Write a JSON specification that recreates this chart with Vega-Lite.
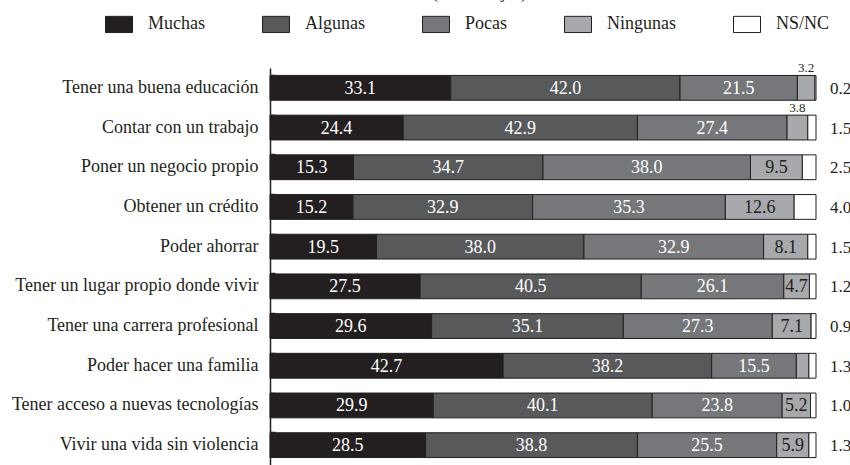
{
  "$schema": "https://vega.github.io/schema/vega-lite/v6.json",
  "autosize": {"type": "none"},
  "width": 546,
  "height": 397,
  "padding": {"left": 270, "top": 68, "right": 34, "bottom": 0},
  "background": "white",
  "config": {
    "view": {"stroke": null},
    "font": "Liberation Serif, Times New Roman, DejaVu Serif, serif",
    "text": {"font": "Liberation Serif, Times New Roman, DejaVu Serif, serif"}
  },
  "title": {
    "text": "(Porcentajes)",
    "font": "Liberation Serif, Times New Roman, DejaVu Serif, serif",
    "fontSize": 18,
    "fontWeight": "normal",
    "color": "#231f20",
    "anchor": "start",
    "frame": "group",
    "baseline": "alphabetic",
    "offset": -6,
    "dx": 162
  },
  "data": {
    "values": [
      {"c": "Tener una buena educación", "Muchas": 33.1, "Algunas": 42.0, "Pocas": 21.5, "Ningunas": 3.2, "NS/NC": 0.2},
      {"c": "Contar con un trabajo", "Muchas": 24.4, "Algunas": 42.9, "Pocas": 27.4, "Ningunas": 3.8, "NS/NC": 1.5},
      {"c": "Poner un negocio propio", "Muchas": 15.3, "Algunas": 34.7, "Pocas": 38.0, "Ningunas": 9.5, "NS/NC": 2.5},
      {"c": "Obtener un crédito", "Muchas": 15.2, "Algunas": 32.9, "Pocas": 35.3, "Ningunas": 12.6, "NS/NC": 4.0},
      {"c": "Poder ahorrar", "Muchas": 19.5, "Algunas": 38.0, "Pocas": 32.9, "Ningunas": 8.1, "NS/NC": 1.5},
      {"c": "Tener un lugar propio donde vivir", "Muchas": 27.5, "Algunas": 40.5, "Pocas": 26.1, "Ningunas": 4.7, "NS/NC": 1.2},
      {"c": "Tener una carrera profesional", "Muchas": 29.6, "Algunas": 35.1, "Pocas": 27.3, "Ningunas": 7.1, "NS/NC": 0.9},
      {"c": "Poder hacer una familia", "Muchas": 42.7, "Algunas": 38.2, "Pocas": 15.5, "Ningunas": 2.3, "NS/NC": 1.3},
      {"c": "Tener acceso a nuevas tecnologías", "Muchas": 29.9, "Algunas": 40.1, "Pocas": 23.8, "Ningunas": 5.2, "NS/NC": 1.0},
      {"c": "Vivir una vida sin violencia", "Muchas": 28.5, "Algunas": 38.8, "Pocas": 25.5, "Ningunas": 5.9, "NS/NC": 1.3}
    ]
  },
  "transform": [
    {"fold": ["Muchas", "Algunas", "Pocas", "Ningunas", "NS/NC"], "as": ["r", "v"]},
    {"calculate": "indexof(['Muchas','Algunas','Pocas','Ningunas','NS/NC'], datum.r)", "as": "o"},
    {"stack": "v", "groupby": ["c"], "sort": [{"field": "o", "order": "ascending"}], "as": ["x0", "x1"]},
    {"calculate": "(datum.x0 + datum.x1) / 2", "as": "mid"}
  ],
  "encoding": {
    "y": {
      "field": "c",
      "type": "nominal",
      "sort": null,
      "scale": {"paddingInner": 0.375, "paddingOuter": 0.1875},
      "axis": {
        "title": null,
        "labelFont": "Liberation Serif, Times New Roman, DejaVu Serif, serif",
        "labelFontSize": 18,
        "labelColor": "#231f20",
        "labelLimit": 0,
        "labelPadding": 17,
        "domainColor": "#231f20",
        "domainWidth": 1.5,
        "tickColor": "#231f20",
        "tickWidth": 1.5,
        "tickSize": -5,
        "bandPosition": 0
      }
    }
  },
  "layer": [
    {
      "mark": {"type": "bar", "stroke": "#231f20", "strokeWidth": 1},
      "encoding": {
        "x": {"field": "x0", "type": "quantitative", "scale": {"domain": [0, 100], "nice": false, "zero": true}, "axis": null},
        "x2": {"field": "x1"},
        "color": {
          "field": "r",
          "type": "nominal",
          "scale": {
            "domain": ["Muchas", "Algunas", "Pocas", "Ningunas", "NS/NC"],
            "range": ["#231f20", "#58595b", "#76777a", "#a7a9ac", "#ffffff"]
          },
          "legend": {
            "title": null,
            "orient": "none",
            "direction": "horizontal",
            "legendX": -165,
            "legendY": -58,
            "symbolType": "M-1,-0.6H1V0.6H-1Z",
            "symbolSize": 729,
            "symbolStrokeColor": "#231f20",
            "symbolStrokeWidth": 1,
            "symbolOpacity": 1,
            "symbolFillOpacity": 1,
            "labelFont": "Liberation Serif, Times New Roman, DejaVu Serif, serif",
            "labelFontSize": 18,
            "labelColor": "#231f20",
            "labelOffset": 15,
            "columnPadding": 55,
            "labelLimit": 0
          }
        }
      }
    },
    {
      "transform": [{"filter": "datum.r === 'Muchas' || datum.r === 'Algunas' || datum.r === 'Pocas' || (datum.r === 'Ningunas' && datum.v >= 4)"}],
      "mark": {"type": "text", "fontSize": 18, "baseline": "middle", "dy": 1},
      "encoding": {
        "x": {"field": "mid", "type": "quantitative"},
        "text": {"field": "v", "type": "quantitative", "format": ".1f"},
        "color": {"condition": {"test": "datum.r === 'Ningunas'", "value": "#231f20"}, "value": "#ffffff"}
      }
    },
    {
      "transform": [{"filter": "datum.r === 'Ningunas' && datum.v >= 3 && datum.v < 4"}],
      "mark": {"type": "text", "fontSize": 13, "baseline": "middle", "dy": -20, "color": "#231f20"},
      "encoding": {
        "x": {"field": "mid", "type": "quantitative"},
        "text": {"field": "v", "type": "quantitative", "format": ".1f"}
      }
    },
    {
      "transform": [{"filter": "datum.r === 'NS/NC'"}],
      "mark": {"type": "text", "fontSize": 17, "baseline": "middle", "align": "left", "dx": 14, "dy": 1, "color": "#231f20"},
      "encoding": {
        "x": {"datum": 100, "type": "quantitative"},
        "text": {"field": "v", "type": "quantitative", "format": ".1f"}
      }
    }
  ]
}
